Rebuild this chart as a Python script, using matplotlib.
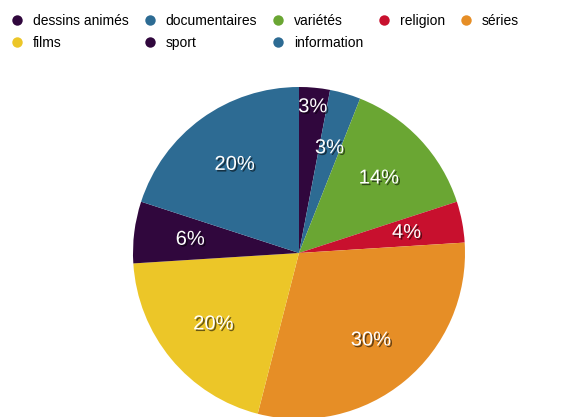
import matplotlib.pyplot as plt
import matplotlib.patheffects as pe
import numpy as np

plt.rcParams['font.family'] = ['Liberation Sans', 'DejaVu Sans']

# Share of programme types (percent), clockwise from 12 o'clock
categories = ['dessins animés', 'documentaires', 'variétés', 'religion',
              'séries', 'films', 'sport', 'information']
values = [3, 3, 14, 4, 30, 20, 6, 20]
colors = ['#30073d', '#2d6b93', '#6aa633', '#c8102e',
          '#e68e26', '#ecc628', '#30073d', '#2d6b93']
# radial position of each percentage label (fraction of radius)
label_dist = [0.885, 0.66, 0.66, 0.66, 0.68, 0.67, 0.66, 0.66]

W, H = 586, 417
fig = plt.figure(figsize=(W / 100, H / 100), dpi=100)

cx, cy, r = 299, H - 253, 166
ax = fig.add_axes([(cx - r) / W, (cy - r) / H, 2 * r / W, 2 * r / H])
wedges, _ = ax.pie(values, colors=colors, startangle=90, counterclock=False,
                   radius=1, wedgeprops=dict(linewidth=0))
ax.set_xlim(-1, 1)
ax.set_ylim(-1, 1)
ax.set_aspect('equal')
ax.axis('off')

shadow = [pe.SimplePatchShadow(offset=(1.2, -1.2), shadow_rgbFace='black', alpha=0.55),
          pe.Normal()]
for w, v, d in zip(wedges, values, label_dist):
    ang = np.deg2rad((w.theta1 + w.theta2) / 2)
    ax.text(d * np.cos(ang), d * np.sin(ang), f'{v}%', color='white',
            fontsize=14.5, ha='center', va='center', path_effects=shadow)

# legend: matplotlib fills columns first, so interleave the two rows
order = [0, 5, 1, 6, 2, 7, 3, 4]
handles = [plt.Line2D([], [], marker='o', linestyle='', markersize=7.5,
                      markerfacecolor=colors[i], markeredgewidth=0)
           for i in order]
labels = [categories[i] for i in order]
fig.legend(handles, labels, ncol=5, loc='upper left',
           bbox_to_anchor=(11.5 / W, 1 - 14 / H), frameon=False,
           fontsize=10, handlelength=0.8, handletextpad=0.75,
           columnspacing=1.1, labelspacing=0.55, borderpad=0,
           borderaxespad=0)

fig.savefig('out.png', dpi=100)
